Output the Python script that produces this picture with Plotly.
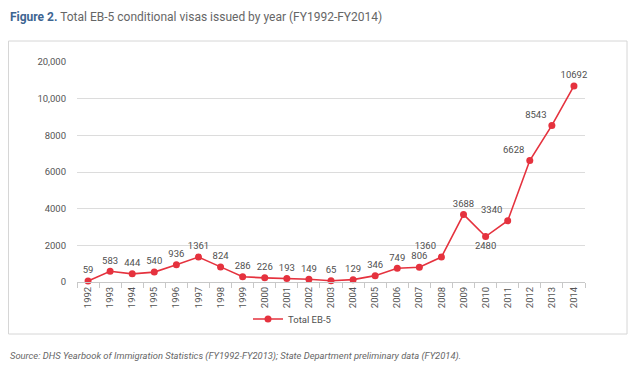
import plotly.graph_objects as go

years = [str(y) for y in range(1992, 2015)]
visas = [59, 583, 444, 540, 936, 1361, 824, 286, 226, 193, 149, 65, 129, 346, 749, 806,
         1360, 3688, 2480, 3340, 6628, 8543, 10692]
label_pos = ["top center"] * 16 + ["top left", "top center", "bottom center", "top left",
                                    "top left", "top left", "top center"]
y_tickvals = [0, 2000, 4000, 6000, 8000, 10000, 12000]
y_ticktext = ["0", "2000", "4000", "6000", "8000", "10,000", "20,000"]

FONT = "Roboto, Liberation Sans Narrow, sans-serif"
RED = "#e5323e"

W, H = 632, 365
L, T, PW, PH = 69, 54, 508, 220
BOT = T + PH


def px(xf):
    return (xf - L) / PW


def py(yf):
    return (BOT - yf) / PH


fig = go.Figure()
fig.add_trace(go.Scatter(
    x=years, y=visas, mode="lines+markers+text", name="Total EB-5",
    line=dict(color=RED, width=1.6),
    marker=dict(color=RED, size=7),
    text=[str(v) for v in visas], textposition=label_pos,
    textfont=dict(family=FONT, size=9.5, color="#505050"),
    cliponaxis=False,
))

fig.update_layout(
    width=W, height=H,
    margin=dict(l=L, r=W - L - PW, t=T, b=H - T - PH),
    paper_bgcolor="white", plot_bgcolor="white",
    font=dict(family=FONT, size=9.5, color="#555555"),
    showlegend=True,
    legend=dict(orientation="h", x=px(240), xanchor="left", y=1 - 311 / H, yanchor="middle",
                xref="paper", yref="container", bgcolor="rgba(0,0,0,0)",
                font=dict(family=FONT, size=9.5, color="#505050"),
                itemwidth=30),
    xaxis=dict(type="category", range=[-0.5, 22.5], tickangle=-90,
               showgrid=False, showline=True, linecolor="#c8c8c8", linewidth=1,
               ticks="outside", tickson="boundaries", ticklen=5, tickcolor="#c8c8c8",
               automargin=False,
               tickfont=dict(family=FONT, size=9.5, color="#555555")),
    yaxis=dict(range=[0, 12000], tickvals=y_tickvals, ticktext=y_ticktext,
               showgrid=True, gridcolor="#dcdcdc", gridwidth=1,
               zeroline=False, showline=False, ticks="", ticklabelstandoff=10,
               automargin=False,
               tickfont=dict(family=FONT, size=9.5, color="#555555")),
    shapes=[dict(type="rect", xref="paper", yref="paper",
                 x0=px(0.5), x1=px(619), y0=py(326), y1=py(33),
                 line=dict(color="#d6d6d6", width=1), fillcolor="rgba(0,0,0,0)", layer="below")],
    annotations=[
        dict(text="<b><span style='color:#3d6591'>Figure 2.</span></b> Total EB-5 conditional visas issued by year (FY1992-FY2014)",
             xref="paper", yref="paper", x=px(0), y=py(9), xanchor="left", yanchor="middle",
             showarrow=False, font=dict(family=FONT, size=12, color="#666666")),
        dict(text="<i>Source: DHS Yearbook of Immigration Statistics (FY1992-FY2013); State Department preliminary data (FY2014).</i>",
             xref="paper", yref="paper", x=px(0), y=py(348), xanchor="left", yanchor="middle",
             showarrow=False, font=dict(family=FONT, size=9.4, color="#666666")),
    ],
)

fig.write_html("out.html")
